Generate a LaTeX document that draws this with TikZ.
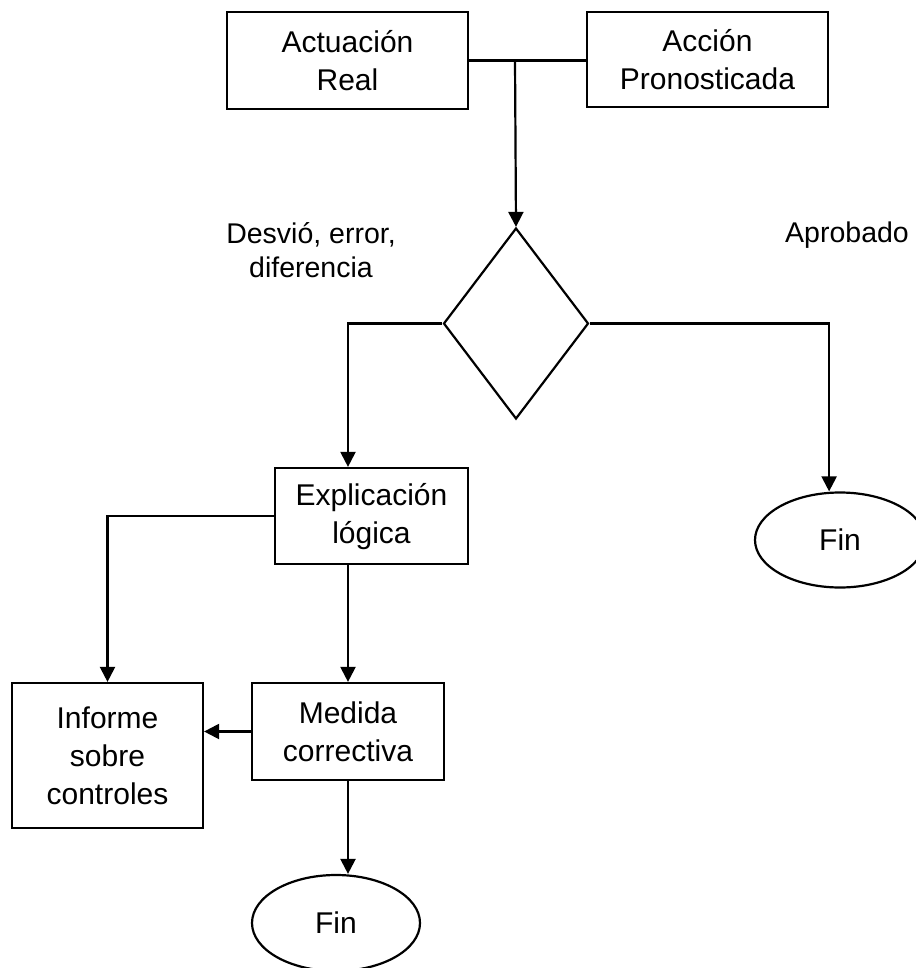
\documentclass[tikz,border=0pt]{standalone}
\usepackage{fontspec}
\setmainfont{Liberation Sans}
\usetikzlibrary{arrows.meta,shapes.geometric}

\begin{document}
\begin{tikzpicture}[x=1pt,y=-1pt,
  base/.style={draw, line width=2.2pt, inner sep=0pt, align=center,
    font=\fontsize{30}{38}\selectfont, text height=21.5pt, text depth=0pt},
  box/.style={base, rectangle},
  twolines/.style={text height=59.5pt},
  threelines/.style={text height=97.5pt},
  endnode/.style={base, ellipse},
  decision/.style={draw, line width=2.2pt, diamond, inner sep=0pt},
  note/.style={align=center, inner sep=0pt,
    font=\fontsize{28.5}{34}\selectfont, text height=20.5pt, text depth=0pt},
  flow/.style={line width=2.2pt, -{Triangle[length=15pt,width=15pt]}},
  link/.style={line width=2.2pt}
]
\useasboundingbox (0,0) rectangle (915,968);

% top row
\node[box, twolines, minimum width=241pt, minimum height=97pt] (real) at (347.5,60.5) {Actuación\\Real};
\node[box, twolines, minimum width=241pt, minimum height=95pt] (pron) at (707.5,59.5) {Acción\\Pronosticada};
\coordinate (join) at (515,60.5);

% comparison
\node[decision, minimum width=145pt, minimum height=191pt] (cmp) at (516,323.5) {};
\node[note, text height=54.5pt] (desvio) at (311,250) {Desvió, error,\\diferencia};
\node[note, anchor=base west] (aprob) at (785,243) {Aprobado};

% branches
\node[box, text height=55.5pt, minimum width=193pt, minimum height=96pt] (expl) at (371.5,516) {Explicación\\lógica};
\node[box, twolines, minimum width=192pt, minimum height=97pt] (medida) at (348,731.5) {Medida\\correctiva};
\node[box, threelines, minimum width=191pt, minimum height=145pt] (informe) at (107.5,755.5) {Informe\\sobre\\controles};
\node[endnode, minimum width=170pt, minimum height=95pt] (fin1) at (840,540) {Fin};
\node[endnode, minimum width=168pt, minimum height=96pt] (fin2) at (336,923) {Fin};

% connectors
\draw[link] (real.east) -- (real.east -| pron.west);
\draw[flow] (join) -- (cmp.north);
\draw[flow] (cmp.west) -| (expl.north -| medida.north);
\draw[flow] (cmp.east) -| (fin1.north -| pron.east);
\draw[flow] (expl.west) -| (informe.north);
\draw[flow] (expl.south -| medida.north) -- (medida.north);
\draw[flow] (medida.west) -- (medida.west -| informe.east);
\draw[flow] (medida.south) -- (fin2.north -| medida.south);
\end{tikzpicture}
\end{document}
